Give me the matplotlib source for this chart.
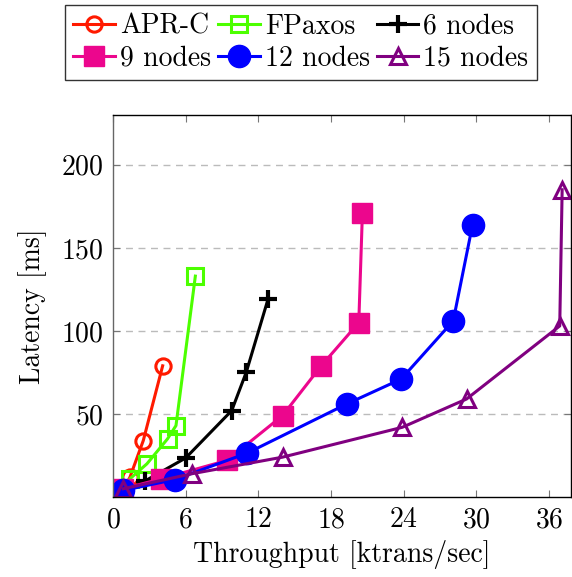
import matplotlib
matplotlib.use("Agg")
import matplotlib.pyplot as plt

plt.rcParams["font.family"] = "serif"
plt.rcParams["font.serif"] = ["cmr10", "DejaVu Serif"]
plt.rcParams["mathtext.fontset"] = "cm"
plt.rcParams["axes.formatter.use_mathtext"] = True

# ===== Data =====
apr_x = [0.8, 1.4, 2.5, 4.1]
apr_y = [4, 12, 34, 79]

fpaxos_x = [0.8, 1.4, 2.8, 4.5, 5.2, 6.8]
fpaxos_y = [4, 11, 20, 35, 43, 133]

n6_x = [0.9, 2.6, 6.0, 9.8, 11.0, 12.8]
n6_y = [3, 9.5, 23.5, 52, 75, 119]

n9_x = [0.85, 4.0, 9.4, 14.0, 17.2, 20.3, 20.6]
n9_y = [5, 11, 22, 49, 79, 105, 171]

n12_x = [0.85, 5.1, 11.1, 19.3, 23.8, 28.1, 29.7]
n12_y = [4, 10.5, 26.5, 56, 71, 106, 164]

n15_x = [0.85, 6.5, 14.0, 23.9, 29.2, 36.9, 37.1]
n15_y = [5, 14, 24, 42, 59, 103, 185]

x_ticks = [0, 6, 12, 18, 24, 30, 36]
y_ticks = [50, 100, 150, 200]

FS = 20

# ===== Figure =====
fig = plt.figure(figsize=(5.72, 5.77), dpi=100)
ax = fig.add_axes([0.1976, 0.1386, 0.80, 0.6621])

lines = []
lines += ax.plot(apr_x, apr_y, color="#ff1a00", lw=2.2, marker="o", ms=11,
                 mfc="none", mew=2.2, label="APR-C")
lines += ax.plot(fpaxos_x, fpaxos_y, color="#4cff00", lw=2.2, marker="s", ms=11,
                 mfc="none", mew=2.2, label="FPaxos")
lines += ax.plot(n6_x, n6_y, color="black", lw=2.2, marker="+", ms=13,
                 mew=3, label="6 nodes")
lines += ax.plot(n9_x, n9_y, color="#ec068d", lw=2.2, marker="s", ms=15,
                 label="9 nodes")
lines += ax.plot(n12_x, n12_y, color="#0000ff", lw=2.2, marker="o", ms=16,
                 label="12 nodes")
lines += ax.plot(n15_x, n15_y, color="#800080", lw=2.2, marker="^", ms=11,
                 mfc="none", mew=2.2, label="15 nodes")

ax.set_xlim(0, 37.8)
ax.set_ylim(0, 230)
ax.set_xticks(x_ticks)
ax.set_yticks(y_ticks)
ax.tick_params(direction="in", top=True, right=True, length=5,
               width=0.8, color="#777777", labelsize=FS, pad=7)
ax.yaxis.grid(True, linestyle=(0, (5, 4)), color="#bbbbbb", lw=1)
ax.set_axisbelow(True)
for s in ax.spines.values():
    s.set_linewidth(1)
ax.spines["left"].set_color("#666666")

ax.set_xlabel("Throughput [ktrans/sec]", fontsize=FS, labelpad=5)
ax.set_ylabel("Latency [ms]", fontsize=FS, labelpad=10)

# row-wise legend order (matplotlib fills columns first)
order = [0, 3, 1, 4, 2, 5]
leg = fig.legend([lines[i] for i in order],
                 [lines[i].get_label() for i in order],
                 loc="upper left", bbox_to_anchor=(65 / 572, 1 - 5 / 577), ncol=3,
                 fontsize=FS, frameon=True, fancybox=False, edgecolor="black",
                 handlelength=1.5, handletextpad=0.18, columnspacing=0.25,
                 borderpad=0.3, labelspacing=0.2, borderaxespad=0)
leg.get_frame().set_linewidth(1)

fig.savefig("out.png", dpi=100)
